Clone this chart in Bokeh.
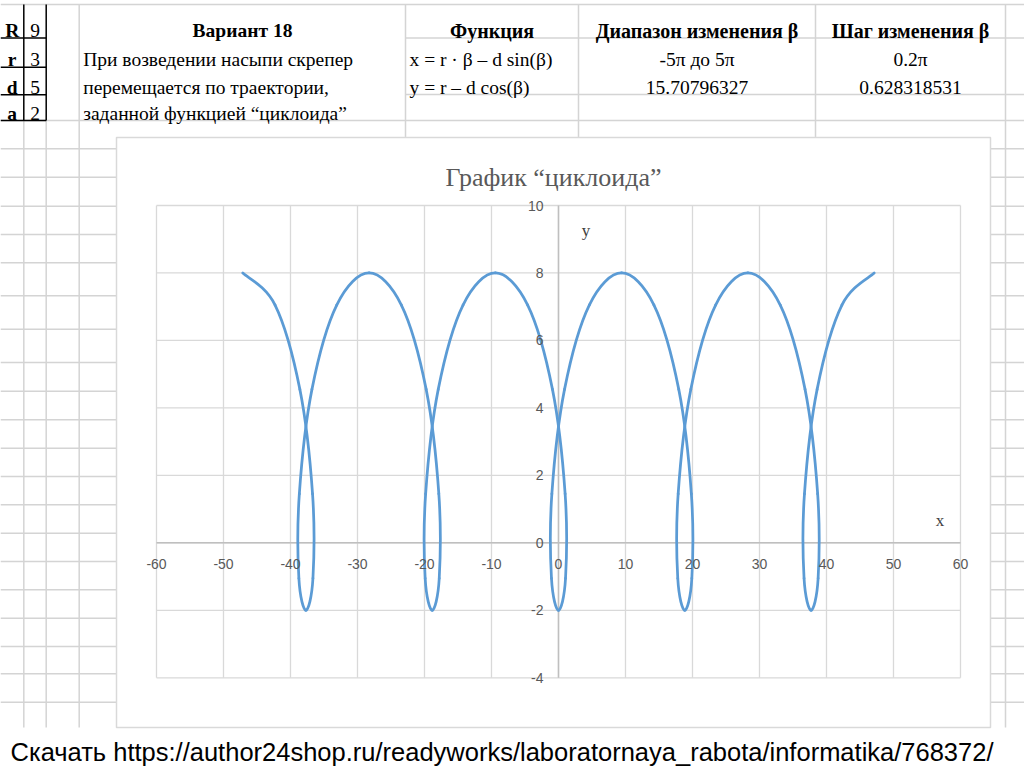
import numpy as np
from bokeh.plotting import figure
from bokeh.models import Range1d
from bokeh.embed import file_html
from bokeh.resources import INLINE
from bokeh.core.properties import value

# ---------------- data ----------------
# cycloid points, beta = -5pi .. 5pi, step 0.2pi (r = 3, d = 5)
X = [-47.12, -42.30, -38.60, -36.71, -36.65, -37.70, -38.75, -38.68, -36.80, -33.10,
     -28.27, -23.45, -19.75, -17.86, -17.80, -18.85, -19.90, -19.83, -17.95, -14.25,
     -9.42, -4.60, -0.90, 0.99, 1.05, 0.00, -1.05, -0.99, 0.90, 4.60,
     9.42, 14.25, 17.95, 19.83, 19.90, 18.85, 17.80, 17.86, 19.75, 23.45,
     28.27, 33.10, 36.80, 38.68, 38.75, 37.70, 36.65, 36.71, 38.60, 42.30, 47.12]
Y = [8.00, 7.05, 4.55, 1.45, -1.05, -2.00, -1.05, 1.45, 4.55, 7.05,
     8.00, 7.05, 4.55, 1.45, -1.05, -2.00, -1.05, 1.45, 4.55, 7.05,
     8.00, 7.05, 4.55, 1.45, -1.05, -2.00, -1.05, 1.45, 4.55, 7.05,
     8.00, 7.05, 4.55, 1.45, -1.05, -2.00, -1.05, 1.45, 4.55, 7.05,
     8.00, 7.05, 4.55, 1.45, -1.05, -2.00, -1.05, 1.45, 4.55, 7.05, 8.00]
X_TICKS = [-60, -50, -40, -30, -20, -10, 0, 10, 20, 30, 40, 50, 60]
Y_TICKS = [-4, -2, 0, 2, 4, 6, 8, 10]
CHART_TITLE = "График “циклоида”"
X_TITLE = "x"
Y_TITLE = "y"
CAPTION = "Скачать https://author24shop.ru/readyworks/laboratornaya_rabota/informatika/768372/"

PARAM_NAMES = ["R", "r", "d", "a"]
PARAM_VALUES = ["9", "3", "5", "2"]
VARIANT = "Вариант 18"
DESCRIPTION = ["При возведении насыпи скрепер", "перемещается по траектории,",
               "заданной функцией “циклоида”"]
HEADERS = ["Функция", "Диапазон изменения β", "Шаг изменения β"]
FORMULAS = ["x = r · β – d sin(β)", "y = r – d cos(β)"]
RANGE_TEXT = ["-5π до 5π", "15.70796327"]
STEP_TEXT = ["0.2π", "0.628318531"]

# ---------------- layout (pixel coordinates) ----------------
W, H = 1024, 767
OX, OY = 0, 0
ROW_Y = [120, 148.3, 176.7, 205.7, 234, 262.3, 295.3, 328.7, 362, 390.7, 419.3,
         447.7, 476, 504.3, 532.7, 561, 589.3, 617.7, 646, 673.3, 701.7]
GRID_BOTTOM = 727
TEXT_BASE = [30, 59.3, 86.7, 113.3]
PL, PR, PT, PB = 156, 960, 205, 677.3          # plot area
BOX = (116, 990, 137, 727)                      # chart area

p = figure(width=W, height=H, x_range=Range1d(OX, OX + W), y_range=Range1d(OY + H, OY),
           x_axis_type=None, y_axis_type=None, toolbar_location=None,
           output_backend="svg", min_border=0, outline_line_color=None,
           background_fill_color="white", border_fill_color="white")

sx = (PR - PL) / (X_TICKS[-1] - X_TICKS[0])
sy = (PB - PT) / (Y_TICKS[-1] - Y_TICKS[0])
p.extra_x_ranges = {"cx": Range1d(X_TICKS[0] - (PL - OX) / sx, X_TICKS[-1] + (OX + W - PR) / sx)}
p.extra_y_ranges = {"cy": Range1d(Y_TICKS[0] - (OY + H - PB) / sy, Y_TICKS[-1] + (PT - OY) / sy)}

GRID_C = "#D4D4D4"
# spreadsheet grid
p.segment(x0=0, x1=1024, y0=ROW_Y, y1=ROW_Y, line_color=GRID_C, line_width=1.5)
p.segment(x0=[405, 405, 0], x1=[1024, 1024, 1024], y0=[37.5, 94, 4], y1=[37.5, 94, 4],
          line_color=GRID_C, line_width=1.5)
vx = [23.3, 45.7, 78.7, 405, 578, 815, 1005]
vy0 = [120, 120, 4, 4, 4, 4, 4]
p.segment(x0=vx, x1=vx, y0=vy0, y1=[GRID_BOTTOM] * len(vx), line_color=GRID_C, line_width=1.5)
# black borders of parameter table
p.segment(x0=[0] * 4, x1=[45.7] * 4, y0=[37.5, 66.7, 94.3, 120], y1=[37.5, 66.7, 94.3, 120],
          line_color="black", line_width=1.5)
p.segment(x0=[23.3, 45.7], x1=[23.3, 45.7], y0=[4, 4], y1=[120, 120],
          line_color="black", line_width=1.5)

serif = value("Liberation Serif")
FS = "19.5px"
p.text(x=[11.7] * 4, y=TEXT_BASE, text=PARAM_NAMES, text_font=serif, text_font_style="bold",
       text_font_size=FS, text_align="center", text_baseline="alphabetic", text_color="black")
p.text(x=[34.5] * 4, y=TEXT_BASE, text=PARAM_VALUES, text_font=serif,
       text_font_size=FS, text_align="center", text_baseline="alphabetic", text_color="black")
p.text(x=[242], y=[TEXT_BASE[0]], text=[VARIANT], text_font=serif, text_font_style="bold",
       text_font_size=FS, text_align="center", text_baseline="alphabetic", text_color="black")
p.text(x=[491.5, 696.5, 910], y=[TEXT_BASE[0]] * 3, text=HEADERS, text_font=serif,
       text_font_style="bold", text_font_size="20px", text_align="center",
       text_baseline="alphabetic", text_color="black")
p.text(x=[82.7] * 3, y=TEXT_BASE[1:], text=DESCRIPTION, text_font=serif,
       text_font_size=FS, text_align="left", text_baseline="alphabetic", text_color="black")
p.text(x=[409] * 2, y=TEXT_BASE[1:3], text=FORMULAS, text_font=serif,
       text_font_size=FS, text_align="left", text_baseline="alphabetic", text_color="black")
p.text(x=[696.5] * 2, y=TEXT_BASE[1:3], text=RANGE_TEXT, text_font=serif,
       text_font_size=FS, text_align="center", text_baseline="alphabetic", text_color="black")
p.text(x=[910] * 2, y=TEXT_BASE[1:3], text=STEP_TEXT, text_font=serif,
       text_font_size=FS, text_align="center", text_baseline="alphabetic", text_color="black")

# chart area
p.quad(left=[BOX[0]], right=[BOX[1]], top=[BOX[2]], bottom=[BOX[3]],
       fill_color="white", line_color="#D9D9D9", line_width=1.5)
p.text(x=[553], y=[177], text=[CHART_TITLE], text_font=serif, text_font_size="26px",
       text_align="center", text_baseline="alphabetic", text_color="#595959")

# plot gridlines (data coordinates)
cr = dict(x_range_name="cx", y_range_name="cy")
p.segment(x0=X_TICKS, x1=X_TICKS, y0=[Y_TICKS[0]] * len(X_TICKS), y1=[Y_TICKS[-1]] * len(X_TICKS),
          line_color="#D9D9D9", line_width=1.3, **cr)
p.segment(x0=[X_TICKS[0]] * len(Y_TICKS), x1=[X_TICKS[-1]] * len(Y_TICKS), y0=Y_TICKS, y1=Y_TICKS,
          line_color="#D9D9D9", line_width=1.3, **cr)
# axes crossing at origin
p.segment(x0=[X_TICKS[0], 0], x1=[X_TICKS[-1], 0], y0=[0, Y_TICKS[0]], y1=[0, Y_TICKS[-1]],
          line_color="#BFBFBF", line_width=1.5, **cr)

# smoothed series (Bezier through the data points, like Excel's smoothed line)
P = np.array([X, Y], dtype=float).T
T = np.empty_like(P)
T[1:-1] = (P[2:] - P[:-2]) / 6.0
T[0] = (P[1] - P[0]) / 6.0
T[-1] = (P[-1] - P[-2]) / 6.0
C0 = P[:-1] + T[:-1]
C1 = P[1:] - T[1:]
p.bezier(x0=P[:-1, 0], y0=P[:-1, 1], x1=P[1:, 0], y1=P[1:, 1],
         cx0=C0[:, 0], cy0=C0[:, 1], cx1=C1[:, 0], cy1=C1[:, 1],
         line_color="#5B9BD5", line_width=2.75, line_cap="round", **cr)

# tick labels
sans = value("Liberation Sans")
p.text(x=X_TICKS, y=[0] * len(X_TICKS), text=[str(t) for t in X_TICKS], y_offset=21,
       text_font=sans, text_font_size="14px", text_align="center", text_baseline="middle",
       text_color="#595959", **cr)
p.text(x=[0] * len(Y_TICKS), y=Y_TICKS, text=[str(t) for t in Y_TICKS], x_offset=-15,
       text_font=sans, text_font_size="14px", text_align="right", text_baseline="middle",
       text_color="#595959", **cr)
# axis titles
p.text(x=[939.5, 585.5], y=[520, 230], text=[X_TITLE, Y_TITLE], text_font=serif,
       text_font_size="17px", text_align="center", text_baseline="middle", text_color="#404040")

# caption
p.text(x=[10], y=[751], text=[CAPTION], text_font=sans, text_font_size="25.5px",
       text_align="left", text_baseline="alphabetic", text_color="black")

with open("out.html", "w", encoding="utf-8") as f:
    f.write(file_html(p, INLINE, "cycloid"))
